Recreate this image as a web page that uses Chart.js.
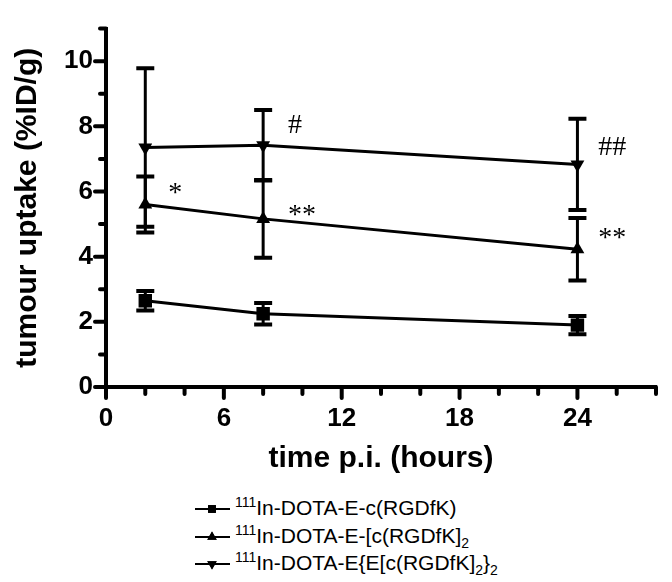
<!DOCTYPE html>
<html lang="en">
<head>
    <meta charset="UTF-8">
    <title>Tumour uptake</title>
    <script src="https://cdn.jsdelivr.net/npm/chart.js@4.4.1/dist/chart.umd.min.js"></script>
    <style>
        body {
            margin: 0;
            background: #ffffff;
            font-family: 'Liberation Sans', Arial, sans-serif;
        }
        #wrap {
            position: relative;
            width: 672px;
            height: 582px;
        }
        #chartBox {
            position: absolute;
            left: 0;
            top: 0;
            width: 672px;
            height: 480px;
        }
        #legend {
            position: absolute;
            left: 195px;
            top: 494px;
            font-size: 21px;
            color: #000;
        }
        .row {
            height: 27.5px;
            line-height: 27.5px;
            white-space: nowrap;
        }
        .key {
            display: inline-block;
            position: relative;
            width: 36px;
            height: 24px;
            vertical-align: middle;
            margin-right: 4px;
        }
        .key canvas { position: absolute; left: 0; top: 0; }
        sup { font-size: 14px; vertical-align: 8px; line-height: 0; }
        sub { font-size: 14px; vertical-align: -5px; line-height: 0; }
    </style>
</head>
<body>
<div id="wrap">
    <div id="chartBox"><canvas id="uptakeChart"></canvas></div>
    <div id="legend">
        <div class="row"><span class="key"><canvas id="k0" width="36" height="24"></canvas></span><sup>111</sup>In-DOTA-E-c(RGDfK)</div>
        <div class="row"><span class="key"><canvas id="k1" width="36" height="24"></canvas></span><sup>111</sup>In-DOTA-E-[c(RGDfK]<sub>2</sub></div>
        <div class="row"><span class="key"><canvas id="k2" width="36" height="24"></canvas></span><sup>111</sup>In-DOTA-E{E[c(RGDfK]<sub>2</sub>}<sub>2</sub></div>
    </div>
</div>

<script>
    // time points (hours p.i.)
    var timePoints = [2, 8, 24];

    // tumour uptake (%ID/g), mean and error
    var monomerMean = [2.65, 2.25, 1.90];
    var monomerErr  = [0.30, 0.33, 0.28];
    var dimerMean   = [5.60, 5.16, 4.23];
    var dimerErr    = [0.86, 1.19, 0.96];
    var tetramerMean = [7.35, 7.42, 6.83];
    var tetramerErr  = [2.43, 1.08, 1.40];

    // significance marks (centre of the mark, data units)
    var markText = ['*', '**', '#', '##', '**'];
    var markX = [3.53, 9.98, 9.62, 25.77, 25.77];
    var markY = [6.10, 5.41, 8.07, 7.40, 4.70];

    var seriesMeans = [monomerMean, dimerMean, tetramerMean];
    var seriesErrs = [monomerErr, dimerErr, tetramerErr];
    var pointStyles = ['rect', 'triangle', 'triangle'];
    var pointRotations = [0, 0, 180];
    var pointRadii = [9.5, 8, 8];

    function toPoints(means) {
        return timePoints.map(function(t, i) { return {x: t, y: means[i]}; });
    }

    var datasets = seriesMeans.map(function(means, s) {
        return {
            data: toPoints(means),
            borderColor: '#000',
            backgroundColor: '#000',
            borderWidth: 3,
            pointStyle: pointStyles[s],
            pointRotation: pointRotations[s],
            pointRadius: pointRadii[s],
            pointBorderWidth: 0,
            tension: 0
        };
    });

    // error bars, axis ticks and the * / # marks
    var extras = {
        id: 'extras',
        beforeDatasetsDraw: function(chart) {
            var ctx = chart.ctx, xs = chart.scales.x, ys = chart.scales.y;
            ctx.save();
            ctx.strokeStyle = '#000';
            seriesMeans.forEach(function(means, s) {
                timePoints.forEach(function(t, i) {
                    var px = xs.getPixelForValue(t);
                    var hi = ys.getPixelForValue(means[i] + seriesErrs[s][i]);
                    var lo = ys.getPixelForValue(means[i] - seriesErrs[s][i]);
                    ctx.lineWidth = 3;
                    ctx.beginPath();
                    ctx.moveTo(px, hi); ctx.lineTo(px, lo);
                    ctx.stroke();
                    ctx.lineWidth = 4;
                    ctx.beginPath();
                    ctx.moveTo(px - 9, hi); ctx.lineTo(px + 9, hi);
                    ctx.moveTo(px - 9, lo); ctx.lineTo(px + 9, lo);
                    ctx.stroke();
                });
            });
            ctx.restore();
        },
        afterDraw: function(chart) {
            var ctx = chart.ctx, xs = chart.scales.x, ys = chart.scales.y;
            var area = chart.chartArea;
            ctx.save();
            ctx.strokeStyle = '#000';
            ctx.lineWidth = 4;
            ctx.lineCap = 'round';
            ctx.beginPath();
            ys.ticks.forEach(function(tk) {
                var py = ys.getPixelForValue(tk.value);
                var len = tk.value % 2 === 0 ? 11 : 6;
                ctx.moveTo(area.left, py); ctx.lineTo(area.left - len, py);
            });
            xs.ticks.forEach(function(tk) {
                var px = xs.getPixelForValue(tk.value);
                var len = tk.value % 6 === 0 ? 11 : 7;
                ctx.moveTo(px, area.bottom); ctx.lineTo(px, area.bottom + len);
            });
            ctx.stroke();

            // centre the ink of each mark on its position
            ctx.fillStyle = '#000';
            ctx.font = '28px "Liberation Serif", "Times New Roman", serif';
            ctx.textAlign = 'center';
            ctx.textBaseline = 'alphabetic';
            markText.forEach(function(txt, i) {
                var m = ctx.measureText(txt);
                var cy = ys.getPixelForValue(markY[i]);
                var base = cy + (m.actualBoundingBoxAscent - m.actualBoundingBoxDescent) / 2;
                ctx.fillText(txt, xs.getPixelForValue(markX[i]), base);
            });
            ctx.restore();
        }
    };

    var tickFont = {family: "'Liberation Sans', Arial, sans-serif", size: 26, weight: 'bold'};
    var titleFont = {family: "'Liberation Sans', Arial, sans-serif", size: 30, weight: 'bold'};

    var ctx = document.getElementById('uptakeChart').getContext('2d');
    var uptakeChart = new Chart(ctx, {
        type: 'line',
        data: {datasets: datasets},
        plugins: [extras],
        options: {
            responsive: true,
            maintainAspectRatio: false,
            animation: false,
            layout: {padding: {left: 0, top: 14, right: 7, bottom: 0}},
            plugins: {legend: {display: false}, tooltip: {enabled: false}},
            scales: {
                x: {
                    type: 'linear',
                    min: 0,
                    max: 28,
                    afterFit: function(scale) { scale.height = 93; },
                    grid: {display: false, drawTicks: false},
                    border: {display: true, color: '#000', width: 4},
                    ticks: {
                        stepSize: 2,
                        autoSkip: false,
                        maxRotation: 0,
                        padding: 16,
                        color: '#000',
                        font: tickFont,
                        callback: function(v) { return v % 6 === 0 && v < 28 ? String(v) : ''; }
                    },
                    title: {display: true, text: 'time p.i. (hours)', color: '#000', font: titleFont, padding: {top: 0, bottom: 3}}
                },
                y: {
                    min: 0,
                    max: 11,
                    afterFit: function(scale) { scale.width = 106; },
                    grid: {display: false, drawTicks: false},
                    border: {display: true, color: '#000', width: 4},
                    ticks: {
                        stepSize: 1,
                        autoSkip: false,
                        padding: 13,
                        color: '#000',
                        font: tickFont,
                        callback: function(v) { return v % 2 === 0 && v <= 10 ? String(v) : ''; }
                    },
                    title: {display: true, text: 'tumour uptake (%ID/g)', color: '#000', font: titleFont, padding: {top: 10, bottom: 0}}
                }
            }
        }
    });

    // little line + marker keys for the legend
    function drawKey(id, style, rot, r) {
        var c = document.getElementById(id).getContext('2d');
        c.strokeStyle = '#000';
        c.fillStyle = '#000';
        c.lineWidth = 2;
        c.beginPath();
        c.moveTo(0, 12); c.lineTo(35, 12);
        c.stroke();
        Chart.helpers.drawPoint(c, {pointStyle: style, rotation: rot, radius: r, borderWidth: 0}, 17, 12);
        c.fill();
    }
    drawKey('k0', 'rect', 0, 5.5);
    drawKey('k1', 'triangle', 0, 5.5);
    drawKey('k2', 'triangle', 180, 5.5);
</script>
</body>
</html>
